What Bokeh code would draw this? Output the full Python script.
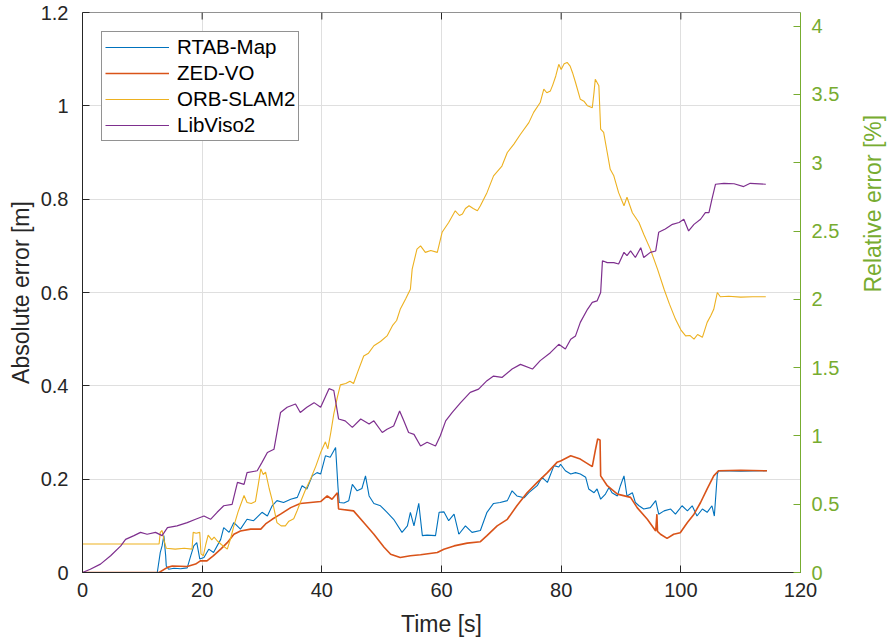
import math
from bokeh.plotting import figure
from bokeh.models import LinearAxis, Range1d, FixedTicker, Span, Legend, LegendItem
from bokeh.embed import file_html
from bokeh.resources import INLINE

# ---------------- data ----------------
rtab_t = [0, 12.5, 13.0, 13.3, 13.6, 13.9, 14.0, 14.4, 15.3, 16.4, 17.5, 18.1, 18.6, 19.1, 19.6, 20.3,
          21.1, 21.9, 23.1, 23.6, 24.5, 25.3, 26.4, 27.5, 28.6, 30.0, 30.9, 31.7, 32.5, 33.6, 34.8,
          35.9, 36.7, 37.5, 38.4, 39.2, 39.8, 40.6, 41.4, 42.3, 42.7, 42.9, 43.7, 44.5, 45.1, 45.9,
          46.7, 47.3, 47.9, 48.7, 49.8, 50.9, 52.0, 53.4, 54.3, 54.8, 55.4, 56.2, 56.8, 57.6, 59.0,
          59.6, 60.4, 61.2, 62.1, 62.9, 64.0, 65.1, 66.5, 67.6, 68.7, 69.8, 71.0, 71.8, 72.6, 73.8,
          74.6, 76.0, 76.8, 77.7, 78.8, 79.6, 79.9, 80.7, 81.6, 82.4, 83.2, 84.1, 84.6, 85.5, 86.0,
          86.6, 87.4, 88.0, 88.5, 89.4, 89.9, 90.5, 91.0, 91.9, 92.4, 93.0, 93.8, 94.9, 95.8, 96.3,
          97.2, 98.3, 99.1, 100.2, 101.1, 101.9, 102.7, 103.6, 104.4, 105.2, 105.6, 106.1, 106.3,
          110.0, 114.4]
rtab_v = [0, 0, 0.043, 0.057, 0.079, 0.036, 0.014, 0.007, 0.009, 0.008, 0.010, 0.036, 0.057, 0.064, 0.029, 0.032,
          0.050, 0.043, 0.071, 0.096, 0.086, 0.107, 0.093, 0.114, 0.111, 0.129, 0.121, 0.143, 0.154, 0.150, 0.157,
          0.161, 0.186, 0.179, 0.207, 0.214, 0.211, 0.250, 0.247, 0.268, 0.183, 0.150, 0.149, 0.154, 0.189, 0.175,
          0.180, 0.207, 0.164, 0.148, 0.143, 0.129, 0.114, 0.086, 0.100, 0.129, 0.100, 0.148, 0.079, 0.080, 0.079,
          0.129, 0.130, 0.111, 0.125, 0.082, 0.100, 0.086, 0.090, 0.129, 0.148, 0.150, 0.154, 0.175, 0.164, 0.160,
          0.171, 0.186, 0.204, 0.193, 0.229, 0.226, 0.232, 0.218, 0.211, 0.214, 0.211, 0.204, 0.179, 0.171, 0.179,
          0.157, 0.168, 0.182, 0.171, 0.164, 0.186, 0.207, 0.164, 0.171, 0.150, 0.143, 0.136, 0.139, 0.154, 0.125,
          0.132, 0.136, 0.125, 0.143, 0.132, 0.143, 0.121, 0.136, 0.129, 0.143, 0.121, 0.211, 0.218,
          0.217, 0.218]

zed_t = [0, 12.8, 14.2, 15.0, 17.5, 18.9, 19.7, 20.8, 21.9, 23.1, 24.2, 25.3, 26.4, 28.1, 29.8, 30.6,
         31.7, 33.1, 34.8, 36.4, 38.1, 39.8, 40.9, 41.7, 42.6, 42.8, 45.3, 47.0, 48.7, 50.4, 51.5, 53.1,
         54.8, 56.5, 59.3, 60.4, 62.1, 64.3, 66.5, 67.6, 69.3, 71.0, 72.6, 74.3, 76.0, 77.7, 79.3, 79.9,
         81.6, 83.2, 85.2, 85.7, 86.1, 86.5, 86.6, 87.7, 89.4, 91.6, 92.7, 94.4, 95.8, 96.0, 96.1, 96.6,
         97.7, 98.8, 99.9, 101.1, 102.2, 103.3, 104.4, 105.5, 106.3, 110.0, 114.4]
zed_v = [0, 0, 0.011, 0.014, 0.013, 0.018, 0.025, 0.025, 0.036, 0.050, 0.064, 0.082, 0.089, 0.093, 0.093, 0.104,
         0.114, 0.125, 0.139, 0.148, 0.150, 0.152, 0.164, 0.157, 0.171, 0.136, 0.132, 0.107, 0.082, 0.054, 0.039, 0.032,
         0.036, 0.038, 0.043, 0.050, 0.057, 0.063, 0.066, 0.079, 0.100, 0.114, 0.143, 0.171, 0.193, 0.214, 0.236, 0.239,
         0.250, 0.243, 0.227, 0.261, 0.286, 0.284, 0.207, 0.186, 0.168, 0.161, 0.139, 0.114, 0.089, 0.125, 0.088, 0.082,
         0.073, 0.082, 0.085, 0.107, 0.125, 0.150, 0.179, 0.207, 0.218, 0.219, 0.218]

orb_t = [0, 12.8, 13.0, 13.3, 13.6, 14.0, 15.5, 17.0, 18.3, 18.5, 19.0, 19.6, 19.8, 20.2, 20.6, 21.0,
         21.6, 22.0, 22.5, 23.2, 24.2, 24.8, 25.3, 26.0, 27.0, 27.5, 28.2, 28.9, 29.4, 29.8, 30.2, 30.6,
         31.2, 31.7, 32.5, 33.2, 33.9, 34.5, 35.3, 35.8, 36.4, 37.2, 38.1, 39.0, 39.8, 40.6, 41.0, 41.5,
         42.0, 42.6, 43.1, 44.0, 44.7, 45.3, 46.0, 47.0, 47.8, 48.7, 49.8, 50.9, 51.8, 52.5, 53.1, 54.0,
         54.8, 55.1, 55.9, 56.5, 57.3, 58.2, 59.3, 60.1, 61.2, 62.3, 63.0, 63.5, 64.0, 64.6, 65.3, 66.0,
         66.5, 67.6, 68.7, 70.1, 71.0, 72.1, 73.2, 74.6, 75.4, 76.5, 77.1, 77.6, 78.2, 78.6, 79.1, 79.6,
         80.0, 80.5, 81.0, 81.5, 81.9, 82.4, 83.2, 83.8, 84.4, 85.2, 85.5, 85.7, 86.0, 86.3, 86.6, 87.1,
         87.7, 88.2, 88.8, 89.6, 90.5, 91.0, 91.9, 93.0, 93.8, 94.9, 96.1, 97.2, 98.1, 99.1, 100.0, 100.8,
         101.5, 102.2, 102.8, 103.6, 104.4, 105.0, 105.5, 106.1, 106.6, 108.0, 110.0, 112.0, 114.2]
orb_v = [0.061, 0.061, 0.086, 0.090, 0.070, 0.052, 0.050, 0.052, 0.050, 0.086, 0.084, 0.086, 0.040, 0.036, 0.060, 0.080,
         0.070, 0.076, 0.068, 0.060, 0.050, 0.075, 0.100, 0.130, 0.165, 0.150, 0.148, 0.152, 0.190, 0.222, 0.210, 0.215,
         0.180, 0.155, 0.107, 0.100, 0.100, 0.110, 0.115, 0.130, 0.150, 0.175, 0.200, 0.228, 0.257, 0.280, 0.265, 0.300,
         0.340, 0.376, 0.402, 0.405, 0.410, 0.405, 0.430, 0.464, 0.470, 0.486, 0.495, 0.507, 0.529, 0.540, 0.564, 0.586,
         0.607, 0.650, 0.693, 0.700, 0.686, 0.690, 0.686, 0.729, 0.750, 0.775, 0.765, 0.768, 0.780, 0.786, 0.780, 0.775,
         0.786, 0.814, 0.850, 0.871, 0.900, 0.918, 0.939, 0.964, 0.986, 1.007, 1.036, 1.028, 1.032, 1.045, 1.064, 1.089,
         1.078, 1.090, 1.093, 1.085, 1.071, 1.050, 1.014, 1.010, 1.000, 0.996, 1.030, 1.057, 1.050, 1.043, 0.950, 0.943,
         0.900, 0.864, 0.850, 0.814, 0.786, 0.804, 0.771, 0.750, 0.725, 0.693, 0.650, 0.607, 0.575, 0.543, 0.520, 0.507,
         0.508, 0.500, 0.510, 0.504, 0.536, 0.550, 0.564, 0.600, 0.591, 0.592, 0.590, 0.591, 0.591]

viso_t = [0, 1.3, 3.0, 4.7, 6.4, 7.2, 8.6, 9.7, 10.8, 12.2, 13.3, 14.2, 15.8, 17.5, 18.9, 20.3,
          21.4, 22.5, 23.6, 25.0, 25.9, 27.0, 27.5, 29.2, 30.0, 30.9, 32.0, 33.1, 34.2, 35.6, 36.4, 37.5,
          38.7, 39.8, 41.2, 42.0, 42.8, 43.9, 45.1, 46.5, 47.9, 48.7, 50.1, 50.9, 52.0, 53.0, 53.7, 54.5,
          55.4, 56.5, 57.6, 59.0, 59.8, 60.7, 61.8, 63.2, 64.8, 66.2, 67.6, 68.7, 70.1, 71.8, 73.2, 75.2,
          76.5, 78.2, 79.6, 80.7, 81.6, 82.4, 83.2, 84.4, 85.2, 86.0, 86.6, 86.9, 87.7, 88.8, 89.6, 90.5,
          91.0, 91.6, 92.4, 93.3, 93.8, 94.9, 95.8, 96.3, 97.4, 98.6, 99.7, 100.5, 101.3, 102.2, 103.3, 104.1,
          104.7, 105.2, 105.8, 107.2, 108.9, 110.5, 111.6, 114.2]
viso_v = [0, 0.007, 0.018, 0.036, 0.057, 0.071, 0.079, 0.086, 0.082, 0.086, 0.079, 0.096, 0.100, 0.107, 0.114, 0.121,
          0.114, 0.129, 0.143, 0.146, 0.193, 0.189, 0.214, 0.218, 0.236, 0.257, 0.264, 0.343, 0.354, 0.361, 0.343, 0.354,
          0.364, 0.354, 0.394, 0.390, 0.329, 0.325, 0.311, 0.329, 0.318, 0.325, 0.300, 0.307, 0.314, 0.346, 0.325, 0.300,
          0.296, 0.271, 0.279, 0.271, 0.293, 0.325, 0.343, 0.364, 0.386, 0.393, 0.411, 0.421, 0.418, 0.436, 0.446, 0.436,
          0.454, 0.471, 0.489, 0.479, 0.500, 0.507, 0.536, 0.564, 0.579, 0.582, 0.600, 0.668, 0.664, 0.664, 0.661, 0.686,
          0.679, 0.689, 0.675, 0.696, 0.675, 0.686, 0.689, 0.729, 0.736, 0.746, 0.750, 0.757, 0.732, 0.746, 0.757, 0.771,
          0.771, 0.800, 0.832, 0.834, 0.833, 0.827, 0.834, 0.832]

series_names = ["RTAB-Map", "ZED-VO", "ORB-SLAM2", "LibViso2"]
series_colors = ["#0072BD", "#D95319", "#EDB120", "#7E2F8E"]
series_widths = [1.1, 1.6, 1.1, 1.2]

x_ticks = [0, 20, 40, 60, 80, 100, 120]
left_ticks = [0, 0.2, 0.4, 0.6, 0.8, 1.0, 1.2]
left_labels = ["0", "0.2", "0.4", "0.6", "0.8", "1", "1.2"]
right_ticks = [0, 0.5, 1.0, 1.5, 2.0, 2.5, 3.0, 3.5, 4.0]
right_labels = ["0", "0.5", "1", "1.5", "2", "2.5", "3", "3.5", "4"]
x_lim = (0, 120)
left_lim = (0, 1.2)
right_lim = (0, 4.1)

# ---------------- figure ----------------
FONT = "Liberation Sans"
AX = "#262626"
GREEN = "#77AC30"

p = figure(frame_width=718, frame_height=560, output_backend="svg", toolbar_location=None,
           x_range=Range1d(*x_lim), y_range=Range1d(*left_lim),
           min_border_left=82, min_border_right=40, min_border_top=12, min_border_bottom=50,
           background_fill_color="white", border_fill_color="white")
p.outline_line_color = None
p.extra_y_ranges = {"rel": Range1d(*right_lim)}

# grids
p.xgrid.ticker = FixedTicker(ticks=x_ticks)
p.ygrid.ticker = FixedTicker(ticks=left_ticks)
for g in (p.xgrid, p.ygrid):
    g.grid_line_color = "#DFDFDF"
    g.grid_line_width = 1

renderers = []
for t, v, col, w in zip([rtab_t, zed_t, orb_t, viso_t], [rtab_v, zed_v, orb_v, viso_v],
                        series_colors, series_widths):
    renderers.append(p.line(t, v, line_color=col, line_width=w))

# top box edge with inward ticks
p.add_layout(Span(location=left_lim[1], dimension="width", line_color=AX, line_width=1))
p.ray(x=x_ticks, y=[left_lim[1]] * len(x_ticks), length=7, length_units="screen",
      angle=-math.pi / 2, line_color=AX, line_width=1)

def style_axis(ax, color, ticks, labels=None):
    ax.ticker = FixedTicker(ticks=ticks)
    if labels is not None:
        ax.major_label_overrides = {t: l for t, l in zip(ticks, labels)}
    ax.axis_line_color = color
    ax.axis_line_width = 1
    ax.major_tick_line_color = color
    ax.major_tick_in = 7
    ax.major_tick_out = 0
    ax.minor_tick_line_color = None
    ax.major_label_text_color = color
    ax.major_label_text_font = FONT
    ax.major_label_text_font_size = "20px"
    ax.axis_label_text_color = color
    ax.axis_label_text_font = FONT
    ax.axis_label_text_font_size = "23px"
    ax.axis_label_text_font_style = "normal"

xa = p.xaxis[0]
style_axis(xa, AX, x_ticks)
xa.axis_label = "Time [s]"
xa.major_label_standoff = 10
xa.axis_label_standoff = 11

ya = p.yaxis[0]
style_axis(ya, AX, left_ticks, left_labels)
ya.axis_label = "Absolute error [m]"
ya.major_label_standoff = 14
ya.axis_label_standoff = 4

ra = LinearAxis(y_range_name="rel")
style_axis(ra, GREEN, right_ticks, right_labels)
ra.axis_label = "Relative error [%]"
ra.major_label_standoff = 11
ra.axis_label_standoff = 31
ra.axis_label_orientation = math.pi / 2
ra.axis_label_text_align = "center"
ra.axis_label_text_baseline = "middle"
p.add_layout(ra, "right")

# legend
lg = Legend(items=[LegendItem(label=n, renderers=[r]) for n, r in zip(series_names, renderers)],
            location="top_left", margin=19, padding=3, spacing=2,
            glyph_width=64, glyph_height=22, label_height=22, label_standoff=8,
            label_text_font=FONT, label_text_font_size="20.5px", label_text_color="black",
            border_line_color=AX, border_line_width=1,
            background_fill_color="white", background_fill_alpha=1)
p.add_layout(lg, "center")

open("out.html", "w").write(file_html(p, INLINE))
